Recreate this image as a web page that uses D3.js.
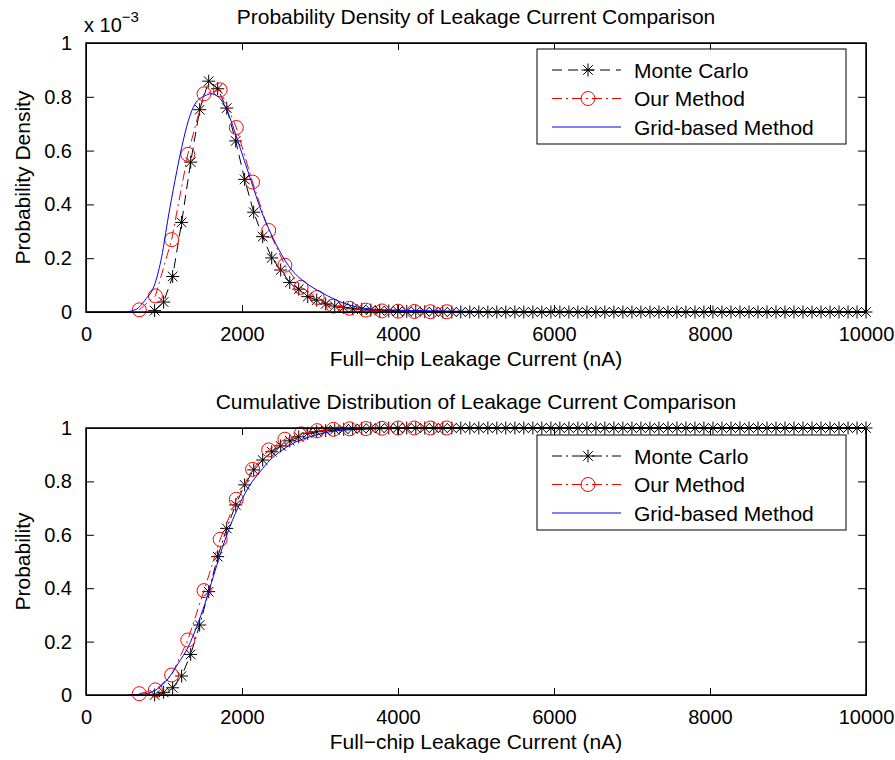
<!DOCTYPE html>
<html>
<head>
<meta charset="utf-8">
<script src="https://cdn.jsdelivr.net/npm/d3@7/dist/d3.min.js"></script>
<style>
  body { margin: 0; background: #fff; }
  svg text { font-family: "Liberation Sans", Arial, sans-serif; fill: #000; }
  .axis path, .axis line { stroke: #000; stroke-width: 1; fill: none; }
</style>
</head>
<body>
<script>
// ---- data ----
var xTicks = [0, 2000, 4000, 6000, 8000, 10000];
var yTicks = [0, 0.2, 0.4, 0.6, 0.8, 1];

// Monte Carlo sample positions (nA)
var mcX = [880, 995, 1111, 1226, 1342, 1457, 1573, 1688, 1804, 1919,
  2034, 2150, 2265, 2381, 2496, 2612, 2727, 2843, 2958, 3073,
  3189, 3304, 3420, 3535, 3651, 3766, 3882, 3997, 4112, 4228,
  4343, 4459, 4574, 4690, 4805, 4921, 5036, 5152, 5267, 5382,
  5498, 5613, 5729, 5844, 5960, 6075, 6191, 6306, 6422, 6537,
  6652, 6768, 6883, 6999, 7114, 7230, 7345, 7461, 7576, 7691,
  7807, 7922, 8038, 8153, 8269, 8384, 8500, 8615, 8731, 8846,
  8961, 9077, 9192, 9308, 9423, 9539, 9654, 9770, 9885, 10000];
// pdf in units of 1e-3
var mcPdf = [0.005, 0.037, 0.132, 0.333, 0.557, 0.752, 0.858, 0.830, 0.758, 0.636,
  0.493, 0.371, 0.280, 0.201, 0.156, 0.110, 0.085, 0.057, 0.044, 0.030,
  0.022, 0.017, 0.012, 0.010, 0.007, 0.005, 0.004, 0.003, 0.002, 0.002,
  0.001, 0.001, 0, 0, 0, 0, 0, 0, 0, 0,
  0, 0, 0, 0, 0, 0, 0, 0, 0, 0,
  0, 0, 0, 0, 0, 0, 0, 0, 0, 0,
  0, 0, 0, 0, 0, 0, 0, 0, 0, 0,
  0, 0, 0, 0, 0, 0, 0, 0, 0, 0];
var mcCdf = [0.000, 0.010, 0.027, 0.071, 0.152, 0.262, 0.387, 0.518, 0.624, 0.712,
  0.787, 0.843, 0.880, 0.911, 0.933, 0.952, 0.967, 0.980, 0.986, 0.990,
  0.993, 0.995, 0.997, 0.998, 0.999, 0.999, 1, 1, 1, 1,
  1, 1, 1, 1, 1, 1, 1, 1, 1, 1,
  1, 1, 1, 1, 1, 1, 1, 1, 1, 1,
  1, 1, 1, 1, 1, 1, 1, 1, 1, 1,
  1, 1, 1, 1, 1, 1, 1, 1, 1, 1,
  1, 1, 1, 1, 1, 1, 1, 1, 1, 1];

// Our Method
var ourX = [683, 890, 1098, 1305, 1513, 1720, 1927, 2135, 2342, 2550,
  2757, 2964, 3172, 3379, 3587, 3794, 4001, 4209, 4416, 4624];
var ourPdf = [0.008, 0.060, 0.269, 0.586, 0.811, 0.826, 0.686, 0.483, 0.303, 0.174,
  0.092, 0.054, 0.022, 0.014, 0.007, 0.004, 0.003, 0.002, 0.001, 0.001];
var ourCdf = [0.005, 0.019, 0.075, 0.206, 0.391, 0.583, 0.733, 0.845, 0.918, 0.958,
  0.978, 0.990, 0.995, 0.997, 0.998, 0.999, 1, 1, 1, 1];

// Grid-based Method (smooth curves)
var gridPdfX = [0, 500, 586, 670, 756, 885, 970, 1055, 1141, 1227, 1312, 1397, 1526, 1600,
  1696, 1773, 1859, 1945, 2030, 2115, 2244, 2372, 2500, 2628, 2799, 2885, 3098, 3312,
  3526, 3846, 4500, 5500, 7000, 10000];
var gridPdf = [0, 0, 0.004, 0.015, 0.044, 0.106, 0.205, 0.353, 0.489, 0.612, 0.711, 0.773, 0.804, 0.811,
  0.800, 0.770, 0.711, 0.637, 0.563, 0.489, 0.378, 0.291, 0.217, 0.160, 0.112, 0.095, 0.060, 0.032,
  0.016, 0.008, 0.004, 0.001, 0, 0];
var gridCdfX = [525, 756, 927, 1055, 1183, 1312, 1419, 1526, 1632, 1718, 1846, 1974, 2103, 2231,
  2359, 2487, 2615, 2744, 2872, 3000, 3128, 3513, 4026, 4667, 6000, 10000];
var gridCdf = [0, 0.004, 0.025, 0.062, 0.119, 0.181, 0.256, 0.343, 0.443, 0.525, 0.631, 0.718, 0.787, 0.836,
  0.880, 0.911, 0.936, 0.955, 0.967, 0.978, 0.986, 0.995, 0.998, 0.999, 1, 1];

var legendLabels = ["Monte Carlo", "Our Method", "Grid-based Method"];

// ---- drawing ----
var width = 895, height = 760;
var left = 86, right = 866;
var fs = 21, tickFs = 20;

var svg = d3.select("body").append("svg")
  .attr("width", width).attr("height", height);

var xScale = d3.scaleLinear().domain([0, 10000]).range([left, right]);

function zip(xs, ys) { return xs.map(function (x, i) { return [x, ys[i]]; }); }

function star(g, pts, x, y) {
  var s = 6.5, d = 4.8;
  g.selectAll("path.star").data(pts).enter().append("path")
    .attr("class", "star")
    .attr("d", function (p) {
      var cx = x(p[0]), cy = y(p[1]);
      return "M" + (cx - s) + "," + cy + "H" + (cx + s) +
        "M" + cx + "," + (cy - s) + "V" + (cy + s) +
        "M" + (cx - d) + "," + (cy - d) + "L" + (cx + d) + "," + (cy + d) +
        "M" + (cx - d) + "," + (cy + d) + "L" + (cx + d) + "," + (cy - d);
    })
    .attr("stroke", "#000").attr("stroke-width", 1).attr("fill", "none");
}

function circles(g, pts, x, y) {
  g.selectAll("circle.mk").data(pts).enter().append("circle")
    .attr("class", "mk")
    .attr("cx", function (p) { return x(p[0]); })
    .attr("cy", function (p) { return y(p[1]); })
    .attr("r", 7)
    .attr("stroke", "#ff0000").attr("stroke-width", 1).attr("fill", "none");
}

function panel(opt) {
  var y = d3.scaleLinear().domain([0, 1]).range([opt.bottom, opt.top]);
  var g = svg.append("g");

  var line = d3.line().x(function (p) { return xScale(p[0]); })
    .y(function (p) { return y(p[1]); });
  var smooth = d3.line().curve(d3.curveMonotoneX)
    .x(function (p) { return xScale(p[0]); })
    .y(function (p) { return y(p[1]); });

  var mc = zip(mcX, opt.mc), our = zip(ourX, opt.our), grid = zip(opt.gridX, opt.grid);

  g.append("path").attr("d", line(mc)).attr("fill", "none")
    .attr("stroke", "#000").attr("stroke-width", 1).attr("stroke-dasharray", opt.mcDash);
  star(g, mc, xScale, y);
  g.append("path").attr("d", line(our)).attr("fill", "none")
    .attr("stroke", "#ff0000").attr("stroke-width", 1).attr("stroke-dasharray", "10,4,2,4");
  circles(g, our, xScale, y);
  g.append("path").attr("d", smooth(grid)).attr("fill", "none")
    .attr("stroke", "#0000ff").attr("stroke-width", 1);

  // axes with inward ticks
  var ax = svg.append("g").attr("class", "axis");
  ax.append("g").attr("transform", "translate(0," + opt.bottom + ")")
    .call(d3.axisBottom(xScale).tickValues(xTicks).tickSizeInner(-7).tickSizeOuter(0)
      .tickPadding(15).tickFormat(d3.format("d")));
  ax.append("g").attr("transform", "translate(0," + opt.top + ")")
    .call(d3.axisTop(xScale).tickValues(xTicks).tickSizeInner(-7).tickSizeOuter(0).tickFormat(""));
  ax.append("g").attr("transform", "translate(" + left + ",0)")
    .call(d3.axisLeft(y).tickValues(yTicks).tickSizeInner(-8).tickSizeOuter(0)
      .tickPadding(14).tickFormat(d3.format("~g")));
  ax.append("g").attr("transform", "translate(" + right + ",0)")
    .call(d3.axisRight(y).tickValues(yTicks).tickSizeInner(-8).tickSizeOuter(0).tickFormat(""));
  ax.selectAll("text").attr("font-size", tickFs).attr("font-family", null);
  ax.append("rect").attr("x", left).attr("y", opt.top)
    .attr("width", right - left).attr("height", opt.bottom - opt.top)
    .attr("fill", "none").attr("stroke", "#000").attr("stroke-width", 1.5);

  // titles
  svg.append("text").attr("x", (left + right) / 2).attr("y", opt.top - 19)
    .attr("text-anchor", "middle").attr("font-size", fs).text(opt.title);
  svg.append("text").attr("x", (left + right) / 2).attr("y", opt.bottom + 54)
    .attr("text-anchor", "middle").attr("font-size", fs).text("Full\u2212chip Leakage Current (nA)");
  svg.append("text")
    .attr("transform", "translate(30," + (opt.top + opt.bottom) / 2 + ") rotate(-90)")
    .attr("text-anchor", "middle").attr("font-size", fs).text(opt.ylabel);

  // legend
  var lx = 537, lw = 309, lt = opt.legendTop;
  var lg = svg.append("g");
  lg.append("rect").attr("x", lx).attr("y", lt).attr("width", lw).attr("height", 95)
    .attr("fill", "#fff").attr("stroke", "#000").attr("stroke-width", 1);
  var rows = [21, 49.5, 78];
  var dashes = [opt.mcDash, "10,4,2,4", null];
  var colors = ["#000", "#ff0000", "#0000ff"];
  legendLabels.forEach(function (lab, i) {
    var ry = lt + rows[i];
    var ls = lg.append("line").attr("x1", lx + 15).attr("x2", lx + 84)
      .attr("y1", ry).attr("y2", ry).attr("stroke", colors[i]).attr("stroke-width", 1);
    if (dashes[i]) ls.attr("stroke-dasharray", dashes[i]);
    var ly = d3.scaleLinear().domain([0, 1]).range([ry, ry]);
    var lxs = d3.scaleLinear().domain([0, 1]).range([lx + 51, lx + 51]);
    if (i === 0) star(lg, [[0, 0]], lxs, ly);
    if (i === 1) circles(lg, [[0, 0]], lxs, ly);
    lg.append("text").attr("x", lx + 97).attr("y", ry + 7.5)
      .attr("font-size", fs).text(lab);
  });
}

panel({
  top: 43, bottom: 312, legendTop: 49,
  mc: mcPdf, our: ourPdf, gridX: gridPdfX, grid: gridPdf,
  mcDash: "10,6",
  title: "Probability Density of Leakage Current Comparison",
  ylabel: "Probability Density"
});
panel({
  top: 428, bottom: 695, legendTop: 435,
  mc: mcCdf, our: ourCdf, gridX: gridCdfX, grid: gridCdf,
  mcDash: "10,4,2,4",
  title: "Cumulative Distribution of Leakage Current Comparison",
  ylabel: "Probability"
});

// exponent label
var ex = svg.append("text").attr("x", 84).attr("y", 32).attr("font-size", tickFs);
ex.append("tspan").text("x 10");
ex.append("tspan").attr("dy", -10).attr("font-size", 15).text("\u22123");
</script>
</body>
</html>
